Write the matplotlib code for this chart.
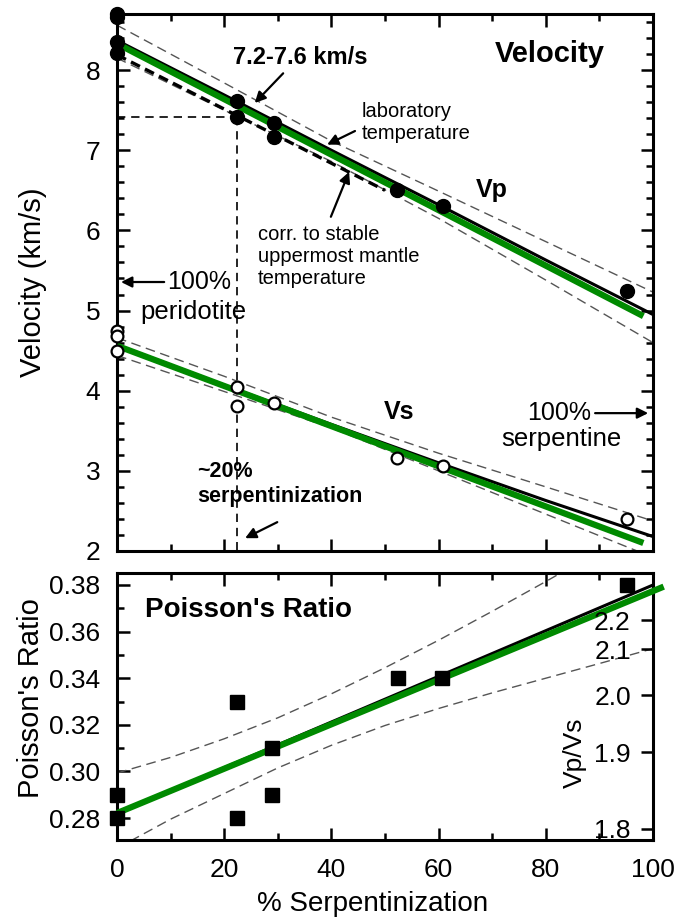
import matplotlib
matplotlib.use("Agg")
import matplotlib.pyplot as plt
from matplotlib.ticker import MultipleLocator, FixedLocator, FormatStrFormatter

plt.rcParams['font.family'] = ['Liberation Sans', 'DejaVu Sans']

# ---------------- data ----------------
# Velocity panel
vp_x = [0, 0, 0, 0, 22.4, 22.4, 29.2, 29.2, 52.3, 60.8, 95.1]
vp_y = [8.70, 8.66, 8.35, 8.21, 7.62, 7.42, 7.34, 7.17, 6.50, 6.30, 5.24]
vs_x = [0, 0, 0, 22.4, 22.4, 29.2, 52.3, 60.8, 95.1]
vs_y = [4.74, 4.68, 4.49, 4.04, 3.81, 3.85, 3.16, 3.06, 2.40]

fit_x = [0, 20, 40, 60, 80, 100]
vp_fit_black = [8.37, 7.69, 7.00, 6.32, 5.63, 4.95]
vp_fit_green_x = [0, 98.2]
vp_fit_green = [8.33, 4.93]
vp_upper = [8.56, 7.84, 7.115, 6.49, 5.86, 5.23]
vp_lower = [8.15, 7.50, 6.86, 6.15, 5.38, 4.60]
vp_corr_x = [0, 50]
vp_corr = [8.19, 6.50]

vs_fit_black = [4.57, 4.07, 3.58, 3.10, 2.63, 2.18]
vs_fit_green_x = [0, 98.2]
vs_fit_green = [4.56, 2.10]
vs_upper = [4.66, 4.18, 3.67, 3.22, 2.80, 2.375]
vs_lower = [4.44, 3.99, 3.535, 3.00, 2.46, 1.92]

guide_x = 22.4
guide_v = 7.41

# Poisson's ratio panel
pr_x = [0, 0, 22.4, 22.4, 29.0, 29.0, 52.5, 60.6, 95.1]
pr_y = [0.29, 0.28, 0.33, 0.28, 0.31, 0.29, 0.34, 0.34, 0.38]
pr_fit_black_x = [0, 100]
pr_fit_black = [0.282, 0.380]
pr_fit_green_x = [0, 102]
pr_fit_green = [0.2821, 0.3793]
pr_band_x = [0, 10, 20, 30, 40, 50, 60, 70, 80, 90, 100]
pr_upper = [0.2993, 0.3060, 0.3140, 0.3230, 0.3333, 0.3445, 0.3563, 0.3687, 0.3815, 0.3946, 0.408]
pr_lower = [0.2670, 0.2795, 0.2905, 0.3015, 0.3112, 0.3197, 0.3270, 0.3337, 0.3400, 0.3463, 0.3527]

vpvs_labels = ['1.8', '1.9', '2.0', '2.1', '2.2']
vpvs_pos = [0.2753, 0.3083, 0.3327, 0.3524, 0.3649]

# ---------------- figure ----------------
W, H = 678, 924
fig = plt.figure(figsize=(W / 100, H / 100), dpi=100)

def rect(l, t, r, b):
    return [l / W, 1 - b / H, (r - l) / W, (b - t) / H]

ax = fig.add_axes(rect(117, 14, 653, 551))
axb = fig.add_axes(rect(117, 573, 653, 840))

GREEN = '#008a00'
BAND = '#555555'
TICK_FS = 19

for a in (ax, axb):
    for s in a.spines.values():
        s.set_linewidth(2.2)
    a.set_xlim(0, 100)
    a.xaxis.set_major_locator(MultipleLocator(20))
    a.xaxis.set_minor_locator(MultipleLocator(10))
    a.tick_params(which='major', direction='in', length=9, width=1.8,
                  labelsize=TICK_FS, top=True)
    a.tick_params(which='minor', direction='in', length=5, width=1.8, top=True)

# ---- top panel ----
ax.set_ylim(2, 8.7)
ax.yaxis.set_major_locator(MultipleLocator(1))
ax.yaxis.set_minor_locator(MultipleLocator(0.2))
ax.tick_params(which='both', right=True)
ax.tick_params(axis='y', pad=12)
ax.tick_params(axis='x', labelbottom=False)

dash_thin = (0, (7, 4))
ax.plot(fit_x, vp_upper, color=BAND, lw=1.0, ls=dash_thin, zorder=2)
ax.plot(fit_x, vp_lower, color=BAND, lw=1.0, ls=dash_thin, zorder=2)
ax.plot(fit_x, vs_upper, color=BAND, lw=1.0, ls=dash_thin, zorder=2)
ax.plot(fit_x, vs_lower, color=BAND, lw=1.0, ls=dash_thin, zorder=2)
ax.plot(vp_corr_x, vp_corr, color='black', lw=2.4, ls=(0, (3, 1.7)), zorder=3)

ax.plot([0, guide_x], [guide_v, guide_v], color='black', lw=1.2,
        ls=(0, (5, 3.5)), zorder=2)
ax.plot([guide_x, guide_x], [guide_v, 2.0], color='black', lw=1.2,
        ls=(0, (5, 3.5)), zorder=2)

ax.plot(fit_x, vp_fit_black, color='black', lw=2.2, zorder=4)
ax.plot(fit_x, vs_fit_black, color='black', lw=2.2, zorder=4)
ax.plot(vp_fit_green_x, vp_fit_green, color=GREEN, lw=4.5, zorder=5,
        solid_capstyle='butt')
ax.plot(vs_fit_green_x, vs_fit_green, color=GREEN, lw=4.5, zorder=5,
        solid_capstyle='butt')

ax.plot(vp_x, vp_y, 'o', color='black', ms=10, zorder=6, clip_on=False)
ax.plot(vs_x, vs_y, 'o', mfc='white', mec='black', mew=1.6, ms=8.5,
        zorder=6, clip_on=False)

ax.set_ylabel('Velocity (km/s)', fontsize=21)
ax.yaxis.set_label_coords(-0.13, 0.5)

arrow_kw = dict(arrowstyle='-|>', color='black', lw=1.6,
                mutation_scale=16, shrinkA=0, shrinkB=0)

ax.text(80.8, 8.20, 'Velocity', fontsize=21, fontweight='bold',
        ha='center', va='center')
ax.text(34.1, 8.16, '7.2-7.6 km/s', fontsize=17, fontweight='bold',
        ha='center', va='center')
ax.annotate('', xy=(25.7, 7.59), xytext=(31.0, 7.96), arrowprops=arrow_kw)
ax.text(45.7, 7.35, 'laboratory\ntemperature', fontsize=14.5,
        ha='left', va='center', linespacing=1.2)
ax.annotate('', xy=(39.2, 7.07), xytext=(44.4, 7.24), arrowprops=arrow_kw)
ax.text(26.3, 5.67, 'corr. to stable\nuppermost mantle\ntemperature',
        fontsize=14.5, ha='left', va='center', linespacing=1.2)
ax.annotate('', xy=(43.3, 6.73), xytext=(39.9, 6.17), arrowprops=arrow_kw)
ax.text(70.0, 6.50, 'Vp', fontsize=18, fontweight='bold',
        ha='center', va='center')
ax.text(52.6, 3.73, 'Vs', fontsize=18, fontweight='bold',
        ha='center', va='center')
ax.text(9.3, 5.356, '100%', fontsize=18, ha='left', va='center')
ax.annotate('', xy=(0.75, 5.356), xytext=(8.8, 5.356), arrowprops=arrow_kw)
ax.text(4.3, 4.98, 'peridotite', fontsize=18.5, ha='left', va='center')
ax.text(82.5, 3.72, '100%', fontsize=18, ha='center', va='center')
ax.annotate('', xy=(99.1, 3.72), xytext=(89.2, 3.72), arrowprops=arrow_kw)
ax.text(83.0, 3.40, 'serpentine', fontsize=18.5, ha='center', va='center')
ax.text(14.9, 2.84, '~20%\nserpentinization', fontsize=15.5,
        fontweight='bold', ha='left', va='center', linespacing=1.25)
ax.annotate('', xy=(23.9, 2.16), xytext=(29.9, 2.36), arrowprops=arrow_kw)

# ---- bottom panel ----
axb.set_ylim(0.27056, 0.38515)
axb.yaxis.set_major_locator(MultipleLocator(0.02))
axb.yaxis.set_minor_locator(MultipleLocator(0.01))
axb.yaxis.set_major_formatter(FormatStrFormatter('%.2f'))
axb.tick_params(which='both', right=False)
axb.tick_params(axis='y', pad=12)
axb.tick_params(axis='x', pad=13)

axb.plot(pr_band_x, pr_upper, color=BAND, lw=1.0, ls=dash_thin, zorder=2)
axb.plot(pr_band_x, pr_lower, color=BAND, lw=1.0, ls=dash_thin, zorder=2)
axb.plot(pr_fit_black_x, pr_fit_black, color='black', lw=2.2, zorder=4)
axb.plot(pr_fit_green_x, pr_fit_green, color=GREEN, lw=4.5, zorder=5,
         clip_on=False, solid_capstyle='butt')
axb.plot(pr_x, pr_y, 's', color='black', ms=9.5, zorder=6, clip_on=False)

axb.set_ylabel("Poisson's Ratio", fontsize=21)
axb.yaxis.set_label_coords(-0.135, 0.53)
axb.set_xlabel('% Serpentinization', fontsize=20)
axb.xaxis.set_label_coords(0.476, -0.19)
axb.text(5.2, 0.3692, "Poisson's Ratio", fontsize=20, fontweight='bold',
         ha='left', va='center')
axb.text(85.4, 0.3079, 'Vp/Vs', fontsize=19, rotation=90,
         ha='center', va='center')

ax2 = axb.twinx()
ax2.set_ylim(axb.get_ylim())
ax2.yaxis.set_major_locator(FixedLocator(vpvs_pos))
ax2.set_yticklabels(vpvs_labels)
ax2.yaxis.set_minor_locator(FixedLocator([]))
ax2.tick_params(axis='y', direction='in', length=9, width=1.8,
                labelsize=TICK_FS, pad=-16)
for lab in ax2.get_yticklabels():
    lab.set_horizontalalignment('right')
for s in ax2.spines.values():
    s.set_visible(False)

fig.savefig('out.png', dpi=100)
